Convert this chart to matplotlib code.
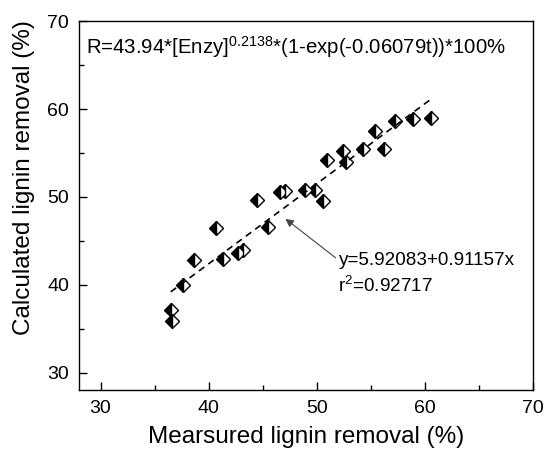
import matplotlib
matplotlib.use("Agg")
import matplotlib.pyplot as plt
import numpy as np
from matplotlib.ticker import MultipleLocator

plt.rcParams['font.family'] = ['Liberation Sans', 'DejaVu Sans']
plt.rcParams['mathtext.fontset'] = 'custom'
plt.rcParams['mathtext.rm'] = 'Liberation Sans'
plt.rcParams['mathtext.it'] = 'Liberation Sans:italic'
plt.rcParams['mathtext.bf'] = 'Liberation Sans:bold'

measured = [36.5, 36.6, 37.6, 38.6, 40.7, 41.3, 42.7, 43.2, 44.5, 45.5, 46.6, 47.1,
            48.9, 49.8, 50.6, 50.9, 52.4, 52.7, 54.3, 55.4, 56.2, 57.2, 58.9, 60.6]
calculated = [37.1, 35.9, 40.0, 42.8, 46.5, 42.9, 43.6, 43.9, 49.6, 46.6, 50.6, 50.7,
              50.8, 50.8, 49.5, 54.2, 55.2, 54.0, 55.4, 57.5, 55.5, 58.6, 58.9, 59.0]

intercept = 5.92083
slope = 0.91157
fit_range = [36.5, 60.6]

fig = plt.figure(figsize=(5.44, 4.5), dpi=100)
ax = fig.add_axes([0.145, 0.133, 0.835, 0.820])

ax.plot(measured, calculated, linestyle='none', marker='D', markersize=7.3,
        fillstyle='left', markerfacecolor='black', markerfacecoloralt='white',
        markeredgecolor='black', markeredgewidth=1.0)

fx = np.array(fit_range)
ax.plot(fx, intercept + slope * fx, linestyle=(0, (4, 3)), color='black', linewidth=1.2)

ax.set_xlim(28, 70)
ax.set_ylim(28, 70)
ax.xaxis.set_major_locator(MultipleLocator(10))
ax.xaxis.set_minor_locator(MultipleLocator(5))
ax.yaxis.set_major_locator(MultipleLocator(10))
ax.yaxis.set_minor_locator(MultipleLocator(5))
ax.tick_params(which='major', direction='in', length=6, width=1, labelsize=14, pad=7)
ax.tick_params(which='minor', direction='in', length=3.5, width=1)
for s in ax.spines.values():
    s.set_linewidth(1.0)

ax.set_xlabel('Mearsured lignin removal (%)', fontsize=17.5)
ax.set_ylabel('Calculated lignin removal (%)', fontsize=17.5)
ax.xaxis.set_label_coords(0.5, -0.098)
ax.yaxis.set_label_coords(-0.097, 0.575)

ax.text(0.015, 0.93, r'R=43.94*[Enzy]$^{\mathrm{0.2138}}$*(1-exp(-0.06079t))*100%',
        transform=ax.transAxes, fontsize=14.7, va='center', ha='left')

ax.annotate('y=5.92083+0.91157x\nr$^{\\mathrm{2}}$=0.92717', xy=(47.1, 47.5), xytext=(52.0, 41.2),
            fontsize=13.6, va='center', ha='left', linespacing=1.45,
            arrowprops=dict(arrowstyle='-|>', color='#444444', lw=0.8,
                            shrinkA=0, shrinkB=0, mutation_scale=12,
                            relpos=(0.0, 0.82)),
            annotation_clip=False)

fig.savefig('out.png', dpi=100)
